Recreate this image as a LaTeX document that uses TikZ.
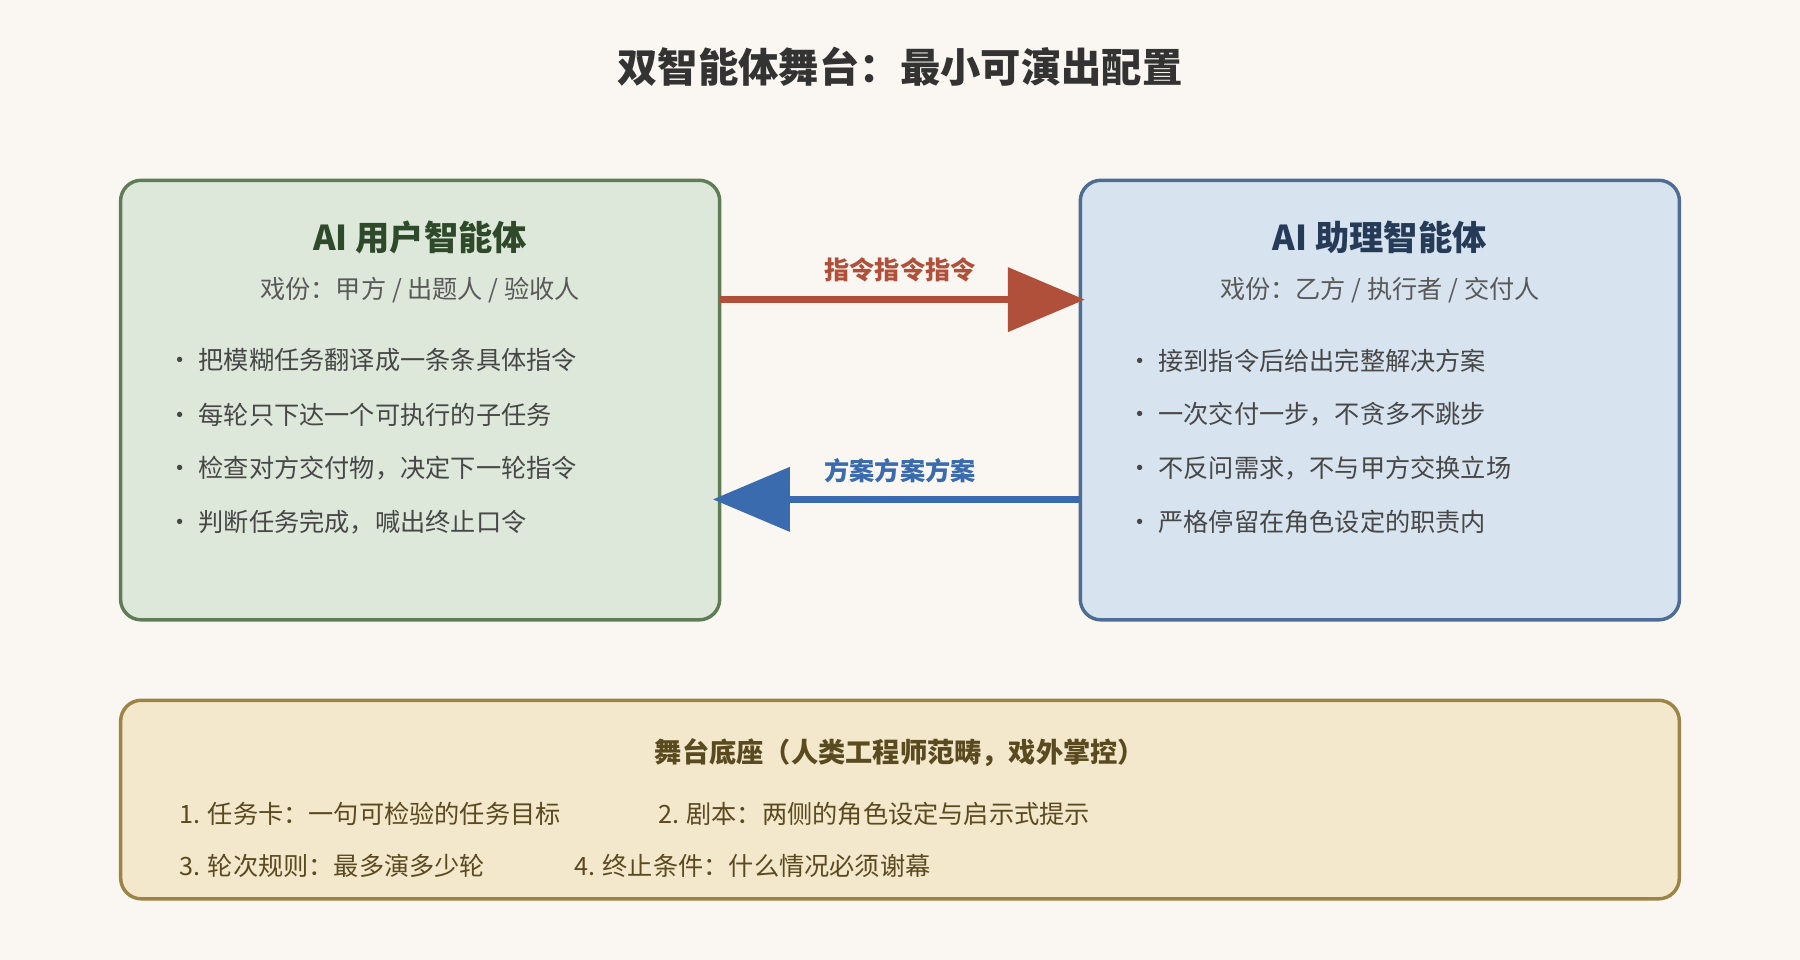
\documentclass[tikz,border=0pt]{standalone}
\usepackage{fontspec}
\setmainfont{Noto Sans CJK SC}
\usetikzlibrary{arrows.meta}
\definecolor{bgc}{HTML}{FAF7F2}
\definecolor{usrfill}{HTML}{DDE8DA}\definecolor{usrline}{HTML}{5E7D57}\definecolor{usrtext}{HTML}{2F4A2A}
\definecolor{asfill}{HTML}{D7E3EE}\definecolor{asline}{HTML}{4E6D92}\definecolor{astext}{HTML}{253B57}
\definecolor{stfill}{HTML}{F3E8CC}\definecolor{stline}{HTML}{9C8447}\definecolor{sttext}{HTML}{5A4A1F}
\definecolor{cmd}{HTML}{B0503A}\definecolor{plan}{HTML}{3B6BAF}
\tikzset{
  box/.style={draw, line width=0.06cm, rounded corners=0.36cm},
  agent/.style={box, minimum width=10.44cm, minimum height=7.66cm},
  head/.style={font=\fontsize{17}{20}\selectfont\bfseries},
  sub/.style={font=\fontsize{12.5}{15}\selectfont, text=black!65},
  item/.style={anchor=west, font=\fontsize{12.5}{15}\selectfont, text=black!72},
  flow/.style={line width=0.12cm, -{Triangle[length=1.34cm, width=1.1cm]}},
  flowlab/.style={font=\fontsize{12.5}{15}\selectfont\bfseries}
}
\begin{document}
\begin{tikzpicture}[x=0.02cm, y=-0.02cm]
  \fill[bgc] (0,0) rectangle (1568,836);
  \useasboundingbox (0,0) rectangle (1568,836);
  \node[font=\fontsize{20}{24}\selectfont\bfseries, text=black!80] (title) at (784,58) {双智能体舞台：最小可演出配置};
  % two agents
  \node[agent, fill=usrfill, draw=usrline] (user) at (366,348.5) {};
  \node[agent, fill=asfill, draw=asline] (assist) at (1202,348.5) {};
  \node[head, text=usrtext] (userhead) at (366,207) {AI 用户智能体};
  \node[sub] (usersub) at (366,253) {戏份：甲方 / 出题人 / 验收人};
  \node[head, text=astext] (assisthead) at (1202,207) {AI 助理智能体};
  \node[sub] (assistsub) at (1202,253) {戏份：乙方 / 执行者 / 交付人};
  \foreach \t [count=\i] in {把模糊任务翻译成一条条具体指令, 每轮只下达一个可执行的子任务, 检查对方交付物，决定下一轮指令, 判断任务完成，喊出终止口令}
    \node[item] (u\i) at (140,267+47*\i) {· \t};
  \foreach \t [count=\i] in {接到指令后给出完整解决方案, 一次交付一步，不贪多不跳步, 不反问需求，不与甲方交换立场, 严格停留在角色设定的职责内}
    \node[item] (a\i) at (976,267+47*\i) {· \t};
  % exchanges
  \coordinate (cmdfrom) at (627,261);
  \coordinate (cmdto) at (945,261);
  \coordinate (planfrom) at (941,435);
  \coordinate (planto) at (621,435);
  \draw[flow, draw=cmd, fill=cmd] (cmdfrom) -- (cmdto);
  \draw[flow, draw=plan, fill=plan] (planfrom) -- (planto);
  \node[flowlab, text=cmd] (cmdlab) at (784,235) {指令指令指令};
  \node[flowlab, text=plan] (planlab) at (784,410) {方案方案方案};
  % stage base
  \node[box, fill=stfill, draw=stline, minimum width=27.16cm, minimum height=3.46cm] (stage) at (784,696.5) {};
  \node[font=\fontsize{13.5}{16}\selectfont\bfseries, text=sttext] (stagehead) at (784,656) {舞台底座（人类工程师范畴，戏外掌控）};
  \node[item, text=sttext] (s1) at (150,709) {1. 任务卡：一句可检验的任务目标};
  \node[item, text=sttext] (s2) at (567,709) {2. 剧本：两侧的角色设定与启示式提示};
  \node[item, text=sttext] (s3) at (150,754) {3. 轮次规则：最多演多少轮};
  \node[item, text=sttext] (s4) at (494,754) {4. 终止条件：什么情况必须谢幕};
\end{tikzpicture}
\end{document}
